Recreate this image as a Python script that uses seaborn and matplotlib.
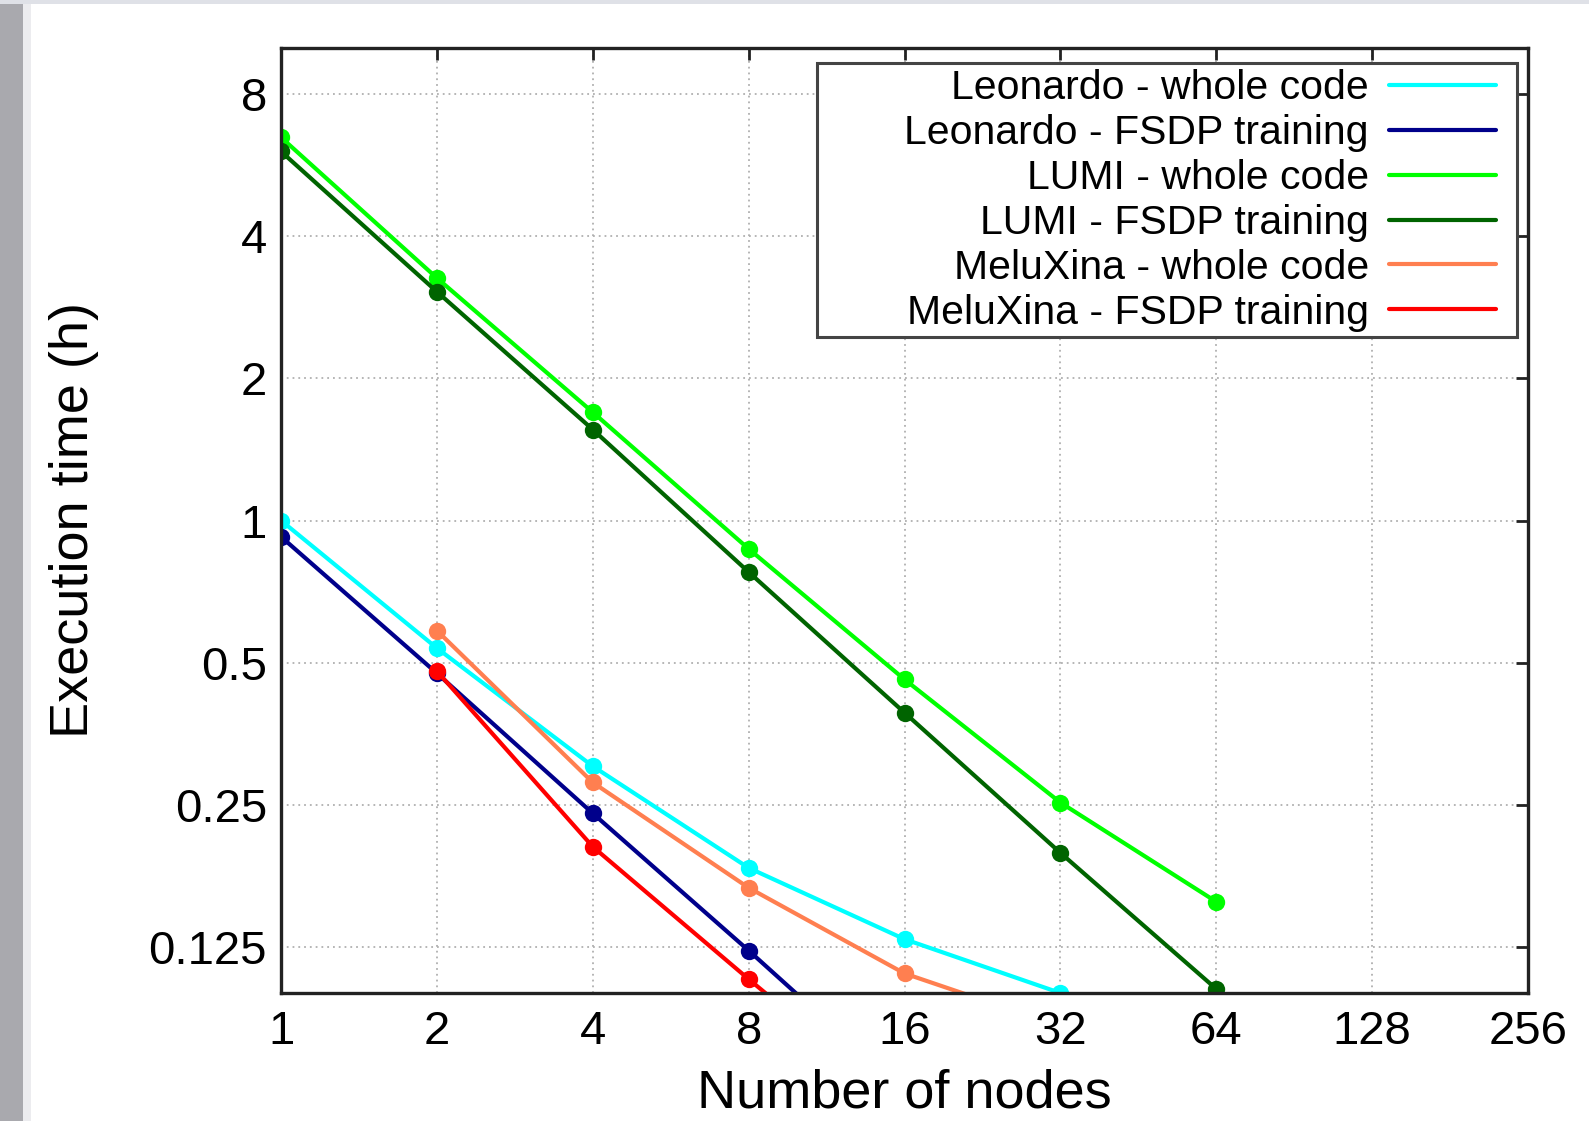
import numpy as np
import pandas as pd
import matplotlib
matplotlib.use("Agg")
import matplotlib.pyplot as plt
from matplotlib.lines import Line2D
from matplotlib.patches import Rectangle
import seaborn as sns

# ---------------- data ----------------
series_names = [
    "Leonardo - whole code",
    "Leonardo - FSDP training",
    "LUMI - whole code",
    "LUMI - FSDP training",
    "MeluXina - whole code",
    "MeluXina - FSDP training",
]
leonardo_whole_nodes = [1, 2, 4, 8, 16, 32]
leonardo_whole_time = [1.0, 0.537, 0.302, 0.184, 0.130, 0.100]
leonardo_fsdp_nodes = [1, 2, 4, 8, 16]
leonardo_fsdp_time = [0.924, 0.475, 0.240, 0.123, 0.062]
lumi_whole_nodes = [1, 2, 4, 8, 16, 32, 64]
lumi_whole_time = [6.47, 3.26, 1.695, 0.871, 0.461, 0.253, 0.156]
lumi_fsdp_nodes = [1, 2, 4, 8, 16, 32, 64]
lumi_fsdp_time = [6.04, 3.05, 1.558, 0.778, 0.392, 0.198, 0.102]
meluxina_whole_nodes = [2, 4, 8, 16, 32]
meluxina_whole_time = [0.585, 0.279, 0.167, 0.110, 0.085]
meluxina_fsdp_nodes = [2, 4, 8, 16]
meluxina_fsdp_time = [0.480, 0.204, 0.107, 0.057]

series_colors = ["#00ffff", "#00008b", "#00ff00", "#006400", "#ff7f50", "#ff0000"]

x_ticks = [1, 2, 4, 8, 16, 32, 64, 128, 256]
x_tick_labels = ["1", "2", "4", "8", "16", "32", "64", "128", "256"]
y_ticks = [0.125, 0.25, 0.5, 1, 2, 4, 8]
y_tick_labels = ["0.125", "0.25", "0.5", "1", "2", "4", "8"]

x_label = "Number of nodes"
y_label = "Execution time (h)"

# ---------------- build long table ----------------
all_nodes = [leonardo_whole_nodes, leonardo_fsdp_nodes, lumi_whole_nodes,
             lumi_fsdp_nodes, meluxina_whole_nodes, meluxina_fsdp_nodes]
all_times = [leonardo_whole_time, leonardo_fsdp_time, lumi_whole_time,
             lumi_fsdp_time, meluxina_whole_time, meluxina_fsdp_time]
rows = []
for name, nodes, times in zip(series_names, all_nodes, all_times):
    for n, t in zip(nodes, times):
        rows.append({"series": name, "nodes": n, "time": t})
df = pd.DataFrame(rows)
palette = dict(zip(series_names, series_colors))

# ---------------- style ----------------
sns.set_style("white")
plt.rcParams["font.family"] = ["Liberation Sans", "DejaVu Sans"]
plt.rcParams["text.color"] = "black"
plt.rcParams["axes.labelcolor"] = "black"

W, H = 1589, 1121
fig = plt.figure(figsize=(W / 100, H / 100), dpi=100)
fig.patch.set_facecolor("white")

# screenshot border
fig.patches.append(Rectangle((0, 0), 23 / W, 1, transform=fig.transFigure,
                             facecolor="#a9a9ae", edgecolor="none", zorder=0))
fig.patches.append(Rectangle((23 / W, 0), 8 / W, 1, transform=fig.transFigure,
                             facecolor="#ececef", edgecolor="none", zorder=0))
fig.patches.append(Rectangle((0, 1 - 4 / H), 1, 4 / H, transform=fig.transFigure,
                             facecolor="#dfe1e7", edgecolor="none", zorder=0))

left, right, top, bottom = 281 / W, 1528 / W, 1 - 48 / H, 1 - 993 / H
ax = fig.add_axes([left, bottom, right - left, top - bottom])
ax.set_facecolor("white")

sns.lineplot(data=df, x="nodes", y="time", hue="series", hue_order=series_names,
             palette=palette, marker="o", markersize=12.5, markeredgewidth=0,
             linewidth=3.0, sort=False, estimator=None, legend=False, ax=ax)

ax.set_xscale("log", base=2)
ax.set_yscale("log", base=2)
ax.set_xlim(1, 256)
ax.set_ylim(0.1, 10)
ax.set_xticks(x_ticks)
ax.set_xticklabels(x_tick_labels)
ax.set_yticks(y_ticks)
ax.set_yticklabels(y_tick_labels)
ax.minorticks_off()

ax.tick_params(axis="both", which="major", direction="in", length=8.5, width=2,
               color="#222222", labelsize=34, top=True, right=True,
               labelcolor="black")
ax.tick_params(axis="x", pad=12)
ax.tick_params(axis="y", pad=10)

ax.set_axisbelow(True)
ax.grid(True, which="major", color="#b0b0b0", linestyle=(0, (1, 2.2)), linewidth=1.3)

for s in ax.spines.values():
    s.set_visible(True)
    s.set_color("#222222")
    s.set_linewidth(2.4)

ax.set_xlabel(x_label, fontsize=39, labelpad=11, color="black")
ax.set_ylabel(y_label, fontsize=39, labelpad=36, color="black")

# legend box (white, drawn behind legend text)
ax.add_patch(Rectangle((0.4298, 0.6942), 0.9912 - 0.4298, 0.9841 - 0.6942,
                       transform=ax.transAxes, facecolor="white",
                       edgecolor="#444444", linewidth=2.2, zorder=1.5))

handles = [Line2D([0], [0], color=c, linewidth=3.0) for c in series_colors]
leg = ax.legend(handles, series_names, loc="upper right",
                bbox_to_anchor=(0.9743, 0.9778), borderaxespad=0, borderpad=0,
                frameon=False, markerfirst=False, fontsize=29.5,
                handlelength=2.6, handletextpad=0.5, labelspacing=0.17)
for t in leg.get_texts():
    t.set_color("black")
leg.set_zorder(5)

fig.savefig("out.png", dpi=100, facecolor="white")
